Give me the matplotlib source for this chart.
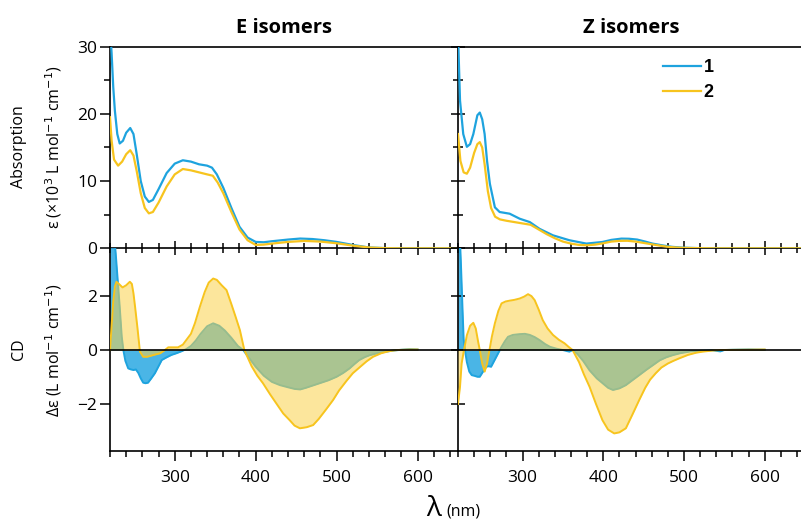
import matplotlib
matplotlib.use('Agg')
import matplotlib.pyplot as plt
from matplotlib.ticker import MultipleLocator

plt.rcParams['font.family'] = ['Open Sans', 'DejaVu Sans']

# ---- absorption, E isomers ----
absE1_wl = [220, 222, 224, 226, 229, 232, 236, 240, 245, 249, 253, 258, 263, 268, 273, 280, 290,
            300, 310, 320, 330, 340, 346, 352, 360, 370, 380, 390, 400, 410, 420, 440, 455, 470,
            485, 500, 520, 540, 560, 580, 650]
absE1 = [33, 29, 24, 20.5, 17, 15.6, 16.0, 17.2, 17.9, 17.0, 14.0, 10.0, 7.7, 6.9, 7.2, 8.8, 11.2,
         12.6, 13.1, 12.9, 12.5, 12.3, 12.0, 11.0, 9.0, 6.0, 3.2, 1.6, 0.95, 0.9, 1.05, 1.3, 1.45, 1.38,
         1.2, 0.95, 0.5, 0.12, 0.03, 0.0, 0.0]
absE2_wl = [220, 222, 225, 230, 235, 240, 245, 249, 253, 258, 263, 268, 273, 280, 290, 300, 310,
            320, 330, 340, 347, 353, 360, 370, 380, 390, 400, 410, 420, 440, 460, 480, 500, 520,
            540, 560, 580, 650]
absE2 = [19.5, 16, 13.2, 12.3, 12.9, 14.0, 14.6, 13.8, 11.5, 8.2, 6.0, 5.2, 5.4, 6.8, 9.2, 11.0, 11.8,
         11.6, 11.3, 11.0, 10.8, 9.8, 8.2, 5.4, 2.8, 1.2, 0.5, 0.55, 0.7, 0.95, 1.1, 1.0, 0.75, 0.4,
         0.12, 0.02, 0.0, 0.0]

# ---- absorption, Z isomers ----
absZ1_wl = [220, 222.5, 226.5, 231, 235, 239, 244, 247, 250, 253, 256, 259.5, 265.7, 271.6, 284,
            296.5, 309, 321, 337.7, 358, 379, 399, 410, 422.5, 432, 442, 452, 461, 475, 485, 498,
            520, 540, 650]
absZ1 = [32, 22, 17, 15.1, 15.5, 17, 19.8, 20.2, 19.2, 17, 13, 9.6, 6.1, 5.4, 5.15,
         4.4, 3.9, 2.9, 1.93, 1.2, 0.7, 0.94, 1.25, 1.44, 1.42, 1.3, 1.0, 0.7, 0.4, 0.22, 0.1,
         0.02, 0.0, 0.0]
absZ2_wl = [220, 223, 227, 231, 235, 240, 244, 247, 250, 253, 257, 261, 266, 272, 280, 290, 300,
            310, 320, 330, 340, 350, 360, 370, 380, 390, 400, 410, 420, 430, 440, 450, 460, 470,
            480, 490, 500, 520, 540, 650]
absZ2 = [17, 13, 11.3, 11.1, 12, 14.2, 15.5, 15.8, 15, 12.5, 8.5, 6.0, 4.7, 4.3, 4.1, 3.9, 3.7,
         3.5, 2.8, 2.1, 1.5, 1.0, 0.7, 0.5, 0.45, 0.55, 0.75, 1.0, 1.1, 1.12, 1.0, 0.8, 0.6, 0.4,
         0.22, 0.12, 0.06, 0.02, 0.0, 0.0]

# ---- CD, E isomers ----
cdE1_wl = [220, 224, 227, 230, 232, 234.5, 236.5, 239, 242.5, 246, 249, 252, 255, 258, 261, 264,
           267, 271, 275.5, 280, 284, 290, 296, 302, 308, 314, 320, 326, 332, 340, 347.5, 355, 362,
           370, 378, 384.6, 392, 400, 410, 420, 430, 440, 448, 455, 462, 470, 479, 490, 500, 508,
           516, 522, 528, 535, 541, 550, 561, 570, 580, 590, 600]
cdE1 = [6, 4.6, 3.6, 2.4, 1.6, 0.5, 0.0, -0.4, -0.68, -0.72, -0.74, -0.72, -0.85, -1.05, -1.21, -1.23,
        -1.21, -1.05, -0.86, -0.6, -0.37, -0.27, -0.18, -0.12, -0.05, 0.03, 0.15, 0.35, 0.6, 0.88, 0.99,
        0.9, 0.72, 0.45, 0.15, 0.0, -0.3, -0.62, -0.95, -1.18, -1.3, -1.38, -1.44, -1.46, -1.4, -1.32,
        -1.23, -1.12, -0.99, -0.85, -0.68, -0.52, -0.37, -0.26, -0.19, -0.12, -0.06, -0.02, 0.01,
        0.03, 0.02]
cdE2_wl = [220, 222, 224, 226, 228, 231, 235.5, 240, 244.5, 247, 249, 251, 254, 257, 261, 266, 272,
           278, 282, 287, 292, 298, 304, 310, 315, 320, 325, 331, 337, 342, 347.5, 352, 358, 364,
           370, 375, 380.5, 386, 395, 402, 409, 418, 426, 434, 442, 448, 454.6, 463, 471, 478, 487,
           495.7, 503, 512, 520, 530, 537, 545, 555, 565, 575, 590, 600]
cdE2 = [0.0, 0.9, 1.8, 2.35, 2.53, 2.45, 2.32, 2.4, 2.53, 2.45, 2.1, 1.6, 0.8, -0.06, -0.25, -0.25,
        -0.2, -0.15, -0.12, -0.02, 0.1, 0.1, 0.1, 0.2, 0.4, 0.6, 1.0, 1.6, 2.15, 2.5, 2.65, 2.6, 2.4,
        2.22, 1.7, 1.25, 0.74, 0.0, -0.6, -0.95, -1.23, -1.65, -2.0, -2.35, -2.6, -2.8, -2.9, -2.86,
        -2.78, -2.55, -2.2, -1.85, -1.5, -1.15, -0.86, -0.6, -0.42, -0.25, -0.12, -0.04, 0.0, 0.02,
        0.02]

# ---- CD, Z isomers ----
cdZ1_wl = [220, 222, 223.5, 225.5, 227, 228.6, 231, 234, 237, 241, 244, 247, 251, 255, 258, 261,
           264, 267.5, 271, 274, 278, 282, 288, 296.5, 303, 309, 315, 321, 328, 334, 342, 350, 358,
           362, 368, 375, 383, 392, 400, 406, 412, 420, 428, 436, 445, 453, 462, 470, 478, 486, 495,
           508, 520, 535, 545, 550, 560, 580, 600]
cdZ1 = [5.5, 4.4, 3.3, 1.6, 0.4, 0.0, -0.45, -0.8, -0.93, -0.96, -0.99, -0.99, -0.8, -0.62, -0.6,
        -0.62, -0.45, -0.25, -0.05, 0.12, 0.32, 0.49, 0.56, 0.59, 0.6, 0.56, 0.48, 0.37, 0.22, 0.12,
        0.05, 0.0, -0.06, 0.0, -0.15, -0.4, -0.75, -1.05, -1.25, -1.4, -1.48, -1.42, -1.3, -1.12,
        -0.92, -0.74, -0.55, -0.38, -0.27, -0.19, -0.12, -0.05, -0.03, -0.01, -0.05, 0.0, 0.01, 0.02,
        0.01]
cdZ2_wl = [220, 222.5, 224.5, 227.4, 231, 235, 239, 242, 245, 247, 250, 253, 256, 259, 262, 265.7,
           270, 274, 279, 284, 290, 296.5, 302, 306.8, 311, 315, 320, 325, 331, 337.7, 345, 352,
           357, 362, 370, 376, 383, 391, 399, 406, 413.6, 420, 428, 436, 444.6, 452, 458, 465, 472,
           480, 487, 494, 505, 515, 523, 535, 545, 570, 600]
cdZ2 = [-2.0, -1.36, -0.5, 0.0, 0.55, 0.9, 1.01, 0.8, 0.3, 0.0, -0.5, -0.8, -0.5, 0.0, 0.5, 0.99,
        1.45, 1.73, 1.8, 1.83, 1.86, 1.91, 1.98, 2.07, 2.0, 1.85, 1.5, 1.11, 0.8, 0.56, 0.38, 0.25,
        0.12, 0.0, -0.45, -0.9, -1.36, -2.0, -2.6, -2.95, -3.09, -3.05, -2.9, -2.4, -1.85, -1.4,
        -1.1, -0.86, -0.65, -0.5, -0.4, -0.31, -0.18, -0.1, -0.06, -0.02, 0.0, 0.01, 0.02]

titles = ['E isomers', 'Z isomers']
abs_ticks = [0, 10, 20, 30]
cd_ticks = [-2, 0, 2]
x_ticks = [300, 400, 500, 600]

blue = '#1ea3de'
yellow = '#f7c41e'
blue_fill = '#2aa8e2'
yellow_fill = '#fbd24c'

W, H = 801, 522
fig = plt.figure(figsize=(W / 100, H / 100), dpi=100)

def box(x0, y0, x1, y1):
    # pixel box -> figure fraction
    return [x0 / W, 1 - y1 / H, (x1 - x0) / W, (y1 - y0) / H]

ax_tl = fig.add_axes(box(110, 46.7, 458, 248.3))
ax_tr = fig.add_axes(box(458, 46.7, 805, 248.3))
ax_bl = fig.add_axes(box(110, 248.3, 458, 450.7))
ax_br = fig.add_axes(box(458, 248.3, 805, 450.7))

abs_sets = [(absE1_wl, absE1, absE2_wl, absE2), (absZ1_wl, absZ1, absZ2_wl, absZ2)]
cd_sets = [(cdE1_wl, cdE1, cdE2_wl, cdE2), (cdZ1_wl, cdZ1, cdZ2_wl, cdZ2)]

for i, ax in enumerate([ax_tl, ax_tr]):
    w1, a1, w2, a2 = abs_sets[i]
    ax.plot(w1, a1, color=blue, lw=1.6, label='1', zorder=3)
    ax.plot(w2, a2, color=yellow, lw=1.6, label='2', zorder=3)
    ax.set_ylim(0, 30)
    ax.set_yticks(abs_ticks)
    ax.yaxis.set_minor_locator(MultipleLocator(5))
    ax.set_title(titles[i], fontsize=14.5, fontweight='bold', pad=10)

for i, ax in enumerate([ax_bl, ax_br]):
    w1, c1, w2, c2 = cd_sets[i]
    ax.fill_between(w1, c1, 0, color=blue_fill, alpha=0.85, lw=0, zorder=1)
    ax.plot(w1, c1, color=blue, lw=1.4, zorder=2)
    ax.fill_between(w2, c2, 0, color=yellow_fill, alpha=0.55, lw=0, zorder=3)
    ax.plot(w2, c2, color=yellow, lw=1.4, zorder=4)
    ax.axhline(0, color='black', lw=1.2, zorder=5)
    ax.set_ylim(-3.73, 3.77)
    ax.set_yticks(cd_ticks)

for ax in [ax_tl, ax_tr, ax_bl, ax_br]:
    ax.set_xlim(220, 650)
    ax.set_xticks(x_ticks)
    ax.xaxis.set_minor_locator(MultipleLocator(20))
    ax.spines['right'].set_visible(False)
    for s in ax.spines.values():
        s.set_linewidth(1.2)
    ax.tick_params(which='both', width=1.1, labelsize=12.5, colors='black')
    ax.tick_params(which='major', length=7)
    ax.tick_params(which='minor', length=4.2)
    ax.set_facecolor('none')

for ax in [ax_bl, ax_br]:
    ax.spines['top'].set_visible(False)
    ax.tick_params(axis='x', which='both', direction='out', pad=7)

for ax in [ax_tl, ax_tr]:
    ax.tick_params(axis='x', which='both', direction='inout', labelbottom=False)
    ax.tick_params(axis='x', which='major', length=10)
    ax.tick_params(axis='x', which='minor', length=6.5)

ax_tl.tick_params(axis='y', which='both', direction='out', pad=2)
ax_bl.tick_params(axis='y', which='both', direction='out', pad=2)
ax_tr.tick_params(axis='y', which='both', direction='inout', labelleft=False)
ax_tr.tick_params(axis='y', which='major', length=10)
ax_tr.tick_params(axis='y', which='minor', length=6.5)
ax_br.tick_params(axis='y', which='both', direction='inout', labelleft=False, length=10)

ax_tr.legend(loc='upper left', bbox_to_anchor=(654 / W, 1 - 50 / H),
             bbox_transform=fig.transFigure, frameon=False, handlelength=2.1,
             handletextpad=0.15, labelspacing=0.45, borderpad=0,
             prop={'family': 'Liberation Sans', 'weight': 'bold', 'size': 13})

# axis labels
fig.text(19 / W, 1 - 147 / H, 'Absorption', rotation=90, ha='center', va='center', fontsize=11.5)
fig.text(54 / W, 1 - 147 / H, 'ε (×10$^{3}$ L mol$^{-1}$ cm$^{-1}$)', rotation=90,
         ha='center', va='center', fontsize=11.5)
fig.text(19 / W, 1 - 349 / H, 'CD', rotation=90, ha='center', va='center', fontsize=11.5)
fig.text(54 / W, 1 - 350 / H, 'Δε (L mol$^{-1}$ cm$^{-1}$)', rotation=90,
         ha='center', va='center', fontsize=11.5)
fig.text(441 / W, 1 - 516 / H, 'λ', ha='right', va='baseline', fontsize=20)
fig.text(446 / W, 1 - 516 / H, '(nm)', ha='left', va='baseline', fontsize=11.5)

fig.savefig('out.png', dpi=100)
